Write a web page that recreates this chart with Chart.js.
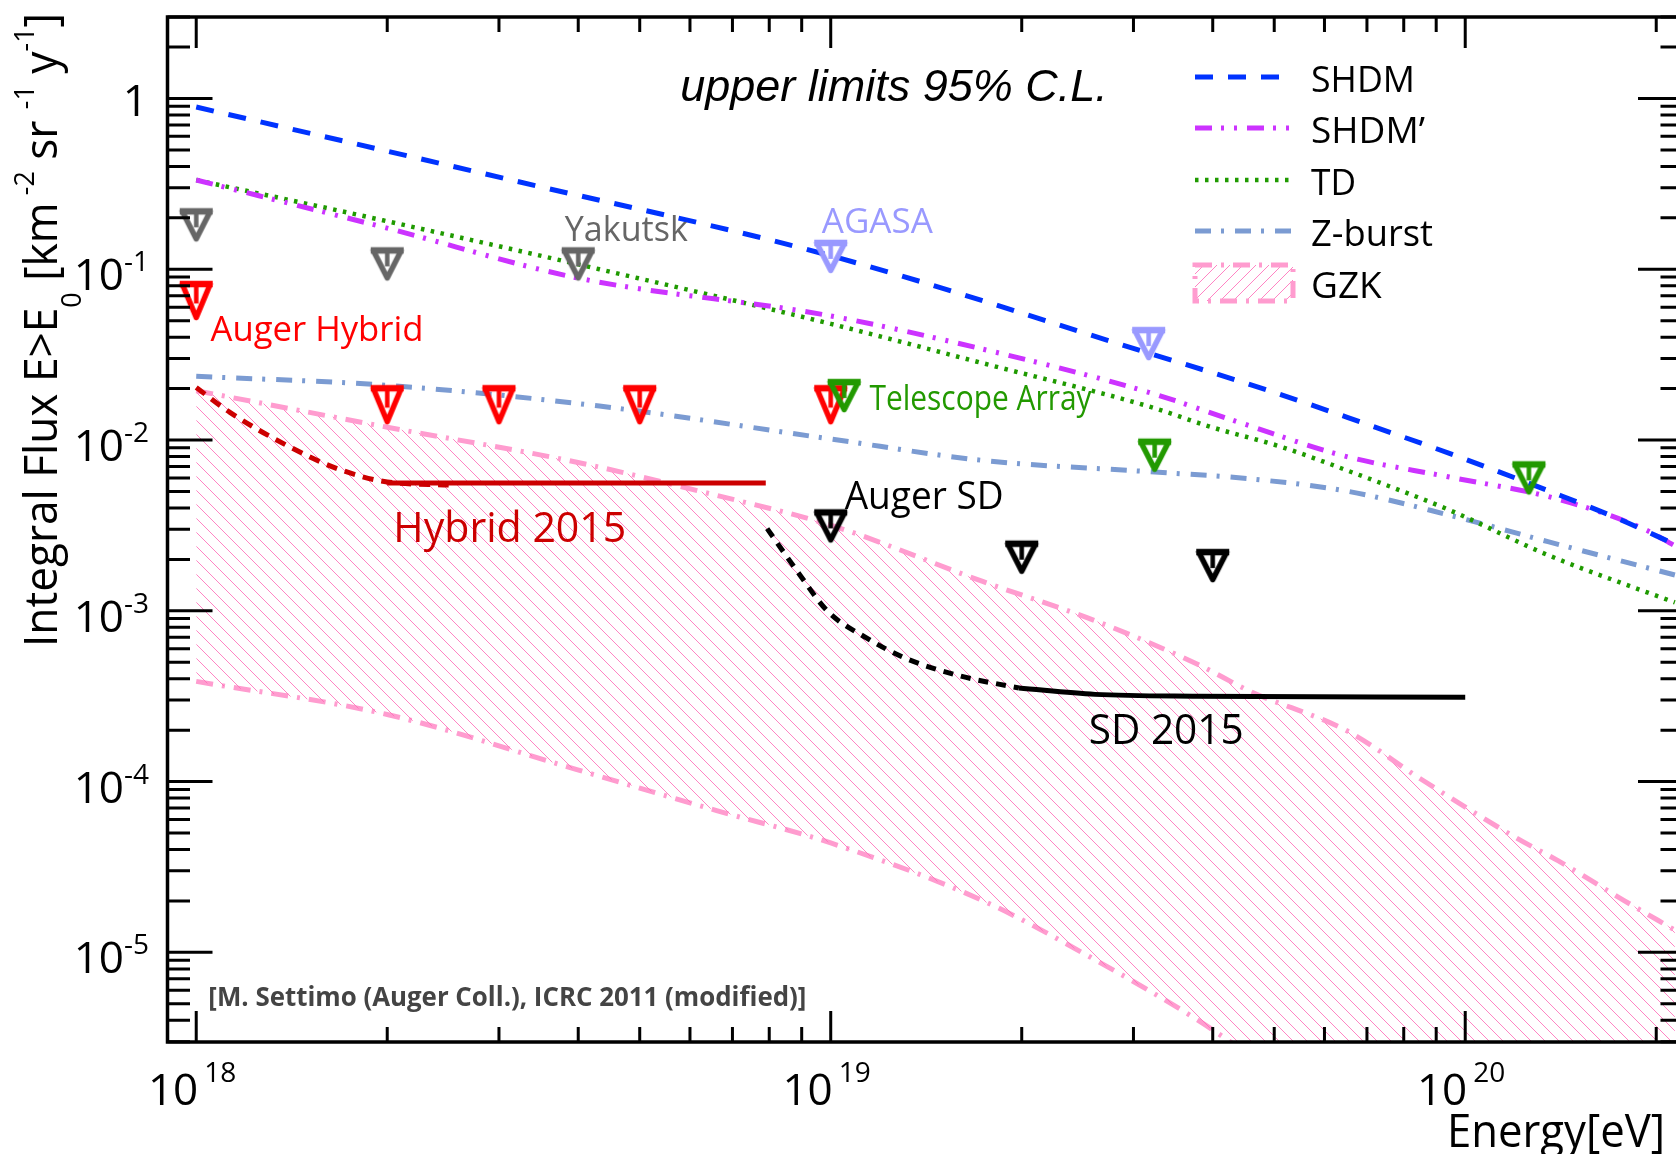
<!DOCTYPE html>
<html>
<head>
<meta charset="utf-8">
<script src="https://cdn.jsdelivr.net/npm/chart.js@4.4.0/dist/chart.umd.min.js"></script>
<style>
  html, body { margin: 0; padding: 0; background: #fff; overflow: hidden; }
  #wrap { width: 1676px; height: 1154px; overflow: hidden; position: relative; }
  #flux { display: block; }
</style>
</head>
<body>
<div id="wrap"><canvas id="flux" width="1700" height="1154"></canvas></div>
<script>
// energies in eV, integral flux E>E0 in km^-2 sr^-1 y^-1
const shdmE = [1e18, 3.16e18, 1e19, 3.16e19, 4.9e19, 6.9e19, 9.8e19, 1.38e20, 1.74e20, 2.14e20];
const shdmF = [0.891, 0.331, 0.120, 0.0324, 0.0195, 0.0126, 0.00794, 0.0049, 0.00347, 0.00245];

const shdm2E = [1e18, 2e18, 3.98e18, 1e19, 1.74e19, 3.16e19, 4.47e19, 6.46e19, 9.44e19, 1.38e20, 1.91e20, 2.14e20];
const shdm2F = [0.333, 0.174, 0.0891, 0.0533, 0.034, 0.0191, 0.01245, 0.00805, 0.00607, 0.00457, 0.00302, 0.0024];

const tdE = [1e18, 2e18, 4.32e18, 1e19, 1.78e19, 3.16e19, 3.98e19, 5.13e19, 6.53e19, 9.44e19, 1.35e20, 1.74e20, 2.14e20];
const tdF = [0.333, 0.191, 0.1, 0.0479, 0.0275, 0.0158, 0.0119, 0.00912, 0.00661, 0.00389, 0.00212, 0.00148, 0.00112];

const zbE = [1e18, 2e18, 4.32e18, 1e19, 1.74e19, 3.16e19, 4.57e19, 6.53e19, 9.44e19, 1.35e20, 2.14e20];
const zbF = [0.0236, 0.0209, 0.0158, 0.01014, 0.00759, 0.00653, 0.00593, 0.00501, 0.00363, 0.00254, 0.00162];

const gzkE = [1e18, 2e18, 3.98e18, 6.61e18, 1e19, 1.74e19, 2.63e19, 3.8e19, 4.57e19, 6.53e19, 8.51e19, 1.2e20, 1.4e20, 1.78e20, 2.14e20];
const gzkHigh = [0.01945, 0.01189, 0.00741, 0.00474, 0.00317, 0.00148, 8.65e-4, 4.83e-4, 3.39e-4, 1.97e-4, 1.035e-4, 4.71e-5, 3.44e-5, 2.01e-5, 1.35e-5];
// lower edge leaves the plot below 3e-6 near 4e19
const gzkLow = [3.86e-4, 2.47e-4, 1.175e-4, 6.76e-5, 4.37e-5, 2.0e-5, 8.9e-6, 3.98e-6, 2.5e-6, 1e-6, 5e-7, 2e-7, 1.4e-7, 8e-8, 5e-8];

const hybDashE = [1e18, 1.13e18, 1.39e18, 1.67e18, 2e18, 2.5e18];
const hybDashF = [0.0203, 0.01452, 0.00929, 0.00679, 0.00568, 0.00545];
const hybE = [2e18, 7.9e18];
const hybF = [0.0056, 0.0056];

const sdDashE = [7.94e18, 8.87e18, 9.9e18, 1.14e19, 1.31e19, 1.61e19, 1.98e19];
const sdDashF = [0.00303, 0.00169, 9.89e-4, 6.92e-4, 5.28e-4, 4.13e-4, 3.53e-4];
const sdE = [1.98e19, 2.61e19, 3.78e19, 1e20];
const sdF = [3.53e-4, 3.24e-4, 3.16e-4, 3.12e-4];

// upper limits
const yakE = [1e18, 2e18, 4e18];
const yakF = [0.182, 0.1075, 0.1075];
const agasaE = [1e19, 3.17e19];
const agasaF = [0.1189, 0.0367];
const hybLimE = [1e18, 2e18, 3e18, 5e18, 1e19];
const hybLimF = [0.0656, 0.0161, 0.0161, 0.0161, 0.0161];
const taE = [1.05e19, 3.24e19, 1.26e20];
const taF = [0.0182, 0.00815, 0.006];
const sdLimE = [1e19, 2e19, 4e19];
const sdLimF = [0.00314, 0.00206, 0.00184];

const xMin = 9.01e17, xMax = 2.204e20, yMin = 2.985e-6, yMax = 3.0;
const xTickExp = [18, 19, 20];
const yTickExp = [0, -1, -2, -3, -4, -5];

const SANS = '"Open Sans", "Noto Sans", sans-serif';

const canvas = document.getElementById('flux');
const ctx = canvas.getContext('2d');

function pts(xs, ys) {
    return xs.map((v, i) => ({ x: v, y: ys[i] }));
}

function limitMarker(color, w, h) {
    const pad = 6;
    const c = document.createElement('canvas');
    c.width = w + pad * 2;
    c.height = h + pad * 2;
    const g = c.getContext('2d');
    g.strokeStyle = color;
    g.lineWidth = 5.5;
    g.lineJoin = 'round';
    const l = pad + 2.5, r = pad + w - 2.5, t = pad + 3, b = pad + h - 2.5;
    const cx = c.width / 2;
    g.beginPath();
    g.moveTo(l, t);
    g.lineTo(r, t);
    g.lineTo(cx, b);
    g.closePath();
    g.stroke();
    // heavier top bar and the stem
    g.lineWidth = 6.5;
    g.beginPath();
    g.moveTo(pad, t);
    g.lineTo(pad + w, t);
    g.stroke();
    g.lineWidth = 4.5;
    g.beginPath();
    g.moveTo(cx, t);
    g.lineTo(cx, t + (b - t) * 0.58);
    g.stroke();
    return c;
}

function hatch(color, step, backslash) {
    const tile = document.createElement('canvas');
    tile.width = step;
    tile.height = step;
    const g = tile.getContext('2d');
    g.strokeStyle = color;
    g.lineWidth = 1;
    g.beginPath();
    if (backslash) {
        g.moveTo(-2, -2); g.lineTo(step + 2, step + 2);
    } else {
        g.moveTo(-2, step + 2); g.lineTo(step + 2, -2);
    }
    g.stroke();
    return ctx.createPattern(tile, 'repeat');
}

const pink = '#ff9ccf';
const gzkHatch = hatch('rgba(255,110,185,0.85)', 14, true);
const legendHatch = hatch('rgba(255,110,185,0.85)', 13, false);

function curve(label, xs, ys, color, dash, width) {
    return {
        label: label,
        data: pts(xs, ys),
        borderColor: color,
        borderDash: dash,
        borderWidth: width || 5,
        borderCapStyle: 'butt',
        pointRadius: 0,
        fill: false,
        cubicInterpolationMode: 'monotone'
    };
}

function limits(label, xs, ys, marker) {
    return {
        label: label,
        data: pts(xs, ys),
        showLine: false,
        pointStyle: marker,
        pointRadius: 16,
        borderColor: 'transparent',
        backgroundColor: 'transparent'
    };
}

const gzkUpper = curve('GZK', gzkE, gzkHigh, pink, [17, 9, 3, 9]);
gzkUpper.fill = '+1';
gzkUpper.backgroundColor = gzkHatch;
const gzkLower = curve('GZK low', gzkE, gzkLow, pink, [17, 9, 3, 9]);

const datasets = [
    limits('Auger SD', sdLimE, sdLimF, limitMarker('#000000', 33, 33)),
    limits('Telescope Array', taE, taF, limitMarker('#229900', 33, 33)),
    limits('Auger Hybrid', hybLimE, hybLimF, limitMarker('#ff0000', 33, 39)),
    limits('AGASA', agasaE, agasaF, limitMarker('#9999ff', 33, 33)),
    limits('Yakutsk', yakE, yakF, limitMarker('#666666', 33, 33)),
    curve('SD 2015', sdE, sdF, '#000000', [], 5),
    curve('SD 2015 dash', sdDashE, sdDashF, '#000000', [10, 8], 5),
    curve('Hybrid 2015', hybE, hybF, '#cc0000', [], 5),
    curve('Hybrid 2015 dash', hybDashE, hybDashF, '#cc0000', [11, 8], 5),
    curve('SHDM', shdmE, shdmF, '#0033ff', [18, 15]),
    curve('SHDM’', shdm2E, shdm2F, '#cc33ff', [17, 9, 3, 10, 3, 10]),
    curve('TD', tdE, tdF, '#1f9a00', [3.5, 6.5], 4.5),
    curve('Z-burst', zbE, zbF, '#7b9bd2', [16, 10, 3, 11]),
    gzkUpper,
    gzkLower
];

// free text placed in data coordinates
const notes = [
    { text: 'upper limits 95% C.L.', e: 5.79e18, f: 0.961, font: 'italic 45px "Liberation Sans", Arial, sans-serif', w: 433, color: '#000' },
    { text: 'Yakutsk', e: 3.81e18, f: 0.1465, font: '35px ' + SANS, w: 123, color: '#666666' },
    { text: 'AGASA', e: 9.68e18, f: 0.163, font: '35px ' + SANS, w: 111, color: '#9999ff' },
    { text: 'Auger Hybrid', e: 1.053e18, f: 0.0382, font: '35px ' + SANS, w: 213, color: '#ff0000' },
    { text: 'Telescope Array', e: 1.151e19, f: 0.0149, font: '35px ' + SANS, w: 222, color: '#229900' },
    { text: 'Hybrid 2015', e: 2.045e18, f: 0.002535, font: '42px ' + SANS, w: 233, color: '#cc0000' },
    { text: 'Auger SD', e: 1.052e19, f: 0.00396, font: '38px ' + SANS, w: 159, color: '#000' },
    { text: 'SD 2015', e: 2.55e19, f: 1.65e-4, font: '42px ' + SANS, w: 155, color: '#000' },
    { text: '[M. Settimo (Auger Coll.), ICRC 2011 (modified)]', e: 1.045e18, f: 4.84e-6, font: 'bold 26px ' + SANS, w: 598, color: '#444444' }
];

const legendRows = [
    { label: 'SHDM', y: 77, w: 104 },
    { label: 'SHDM’', y: 128, w: 127 },
    { label: 'TD', y: 180, w: 45 },
    { label: 'Z-burst', y: 231, w: 122 },
    { label: 'GZK', y: 283, w: 71 }
];

function rich(g, parts, x, y, align) {
    let total = 0;
    const ws = parts.map(p => {
        g.font = p[1];
        const m = g.measureText(p[0]).width;
        total += m;
        return m;
    });
    let cx = align === 'right' ? x - total : (align === 'center' ? x - total / 2 : x);
    g.textAlign = 'left';
    parts.forEach((p, i) => {
        g.font = p[1];
        g.fillText(p[0], cx, y + (p[2] || 0));
        cx += ws[i];
    });
    return total;
}

const decorations = {
    id: 'decorations',
    afterDatasetsDraw(chart) {
        const g = chart.ctx;
        const a = chart.chartArea;
        const x = chart.scales.x, y = chart.scales.y;
        g.save();

        // frame and ticks
        g.strokeStyle = '#000';
        g.lineWidth = 3.5;
        g.strokeRect(a.left, a.top, a.right - a.left, a.bottom - a.top);
        g.lineWidth = 3;
        g.beginPath();
        for (let d = 17; d <= 20; d++) {
            for (let m = 1; m <= 9; m++) {
                const v = m * Math.pow(10, d);
                if (v < xMin || v > xMax) continue;
                const px = x.getPixelForValue(v);
                const len = m === 1 ? 31 : 15;
                g.moveTo(px, a.bottom); g.lineTo(px, a.bottom - len);
                g.moveTo(px, a.top); g.lineTo(px, a.top + len);
            }
        }
        for (let d = -6; d <= 0; d++) {
            for (let m = 1; m <= 9; m++) {
                const v = m * Math.pow(10, d);
                if (v < yMin || v > yMax) continue;
                const py = y.getPixelForValue(v);
                const len = m === 1 ? 45 : 22.5;
                g.moveTo(a.left, py); g.lineTo(a.left + len, py);
                g.moveTo(a.right, py); g.lineTo(a.right - len, py);
            }
        }
        g.stroke();

        // tick labels
        g.fillStyle = '#000';
        g.textBaseline = 'alphabetic';
        xTickExp.forEach(e => {
            const px = x.getPixelForValue(Math.pow(10, e));
            g.font = '44px ' + SANS;
            g.textAlign = 'right';
            g.fillText('10', px + 2, 1105);
            g.font = '28px ' + SANS;
            g.textAlign = 'left';
            g.fillText(String(e), px + 8, 1082);
        });
        yTickExp.forEach(e => {
            const py = y.getPixelForValue(Math.pow(10, e));
            if (e === 0) {
                g.font = '44px ' + SANS;
                g.textAlign = 'right';
                g.fillText('1', 148, py + 18);
                return;
            }
            g.font = '28px ' + SANS;
            g.textAlign = 'right';
            const sup = String(e);
            g.fillText(sup, 149, py + 2);
            const sw = g.measureText(sup).width;
            g.font = '44px ' + SANS;
            g.fillText('10', 149 - sw, py + 21);
        });

        // axis titles
        g.font = '46px ' + SANS;
        g.textAlign = 'right';
        g.fillText('Energy[eV]', 1665, 1147, 218);

        g.save();
        g.translate(57, 647);
        g.rotate(-Math.PI / 2);
        const big = '46px ' + SANS, small = '28px ' + SANS;
        const parts = [
            ['Integral Flux E>E', big, 0], ['0', small, 24],
            [' [km', big, 0], [' -2', small, -23],
            [' sr ', big, 0], ['-1', small, -23],
            [' y', big, 0], ['-1', small, -23], [']', big, 0]
        ];
        let total = 0;
        parts.forEach(p => { g.font = p[1]; total += g.measureText(p[0]).width; });
        g.scale(634 / total, 1);
        rich(g, parts, 0, 0, 'left');
        g.restore();

        // annotations
        notes.forEach(n => {
            g.font = n.font;
            g.fillStyle = n.color;
            g.textAlign = 'left';
            g.fillText(n.text, x.getPixelForValue(n.e), y.getPixelForValue(n.f), n.w);
        });

        // legend
        const lx0 = 1195, lx1 = 1291, tx = 1311;
        legendRows.forEach(row => {
            const ds = chart.data.datasets.find(d => d.label === row.label);
            g.setLineDash(ds.borderDash || []);
            g.strokeStyle = ds.borderColor;
            g.lineWidth = ds.borderWidth;
            g.lineCap = 'butt';
            if (row.label === 'GZK') {
                g.fillStyle = legendHatch;
                g.fillRect(lx0, row.y - 18, lx1 - lx0 + 2, 36);
                g.strokeRect(lx0, row.y - 18, lx1 - lx0 + 2, 36);
            } else {
                g.beginPath();
                g.moveTo(lx0, row.y);
                g.lineTo(lx1, row.y);
                g.stroke();
            }
            g.setLineDash([]);
            g.fillStyle = '#000';
            g.font = '37px ' + SANS;
            g.textAlign = 'left';
            g.fillText(row.label, tx, row.y + 15, row.w);
        });

        g.restore();
    }
};

const chart = new Chart(ctx, {
    type: 'line',
    data: { datasets: datasets },
    options: {
        responsive: false,
        animation: false,
        devicePixelRatio: 1,
        events: [],
        layout: { padding: { left: 167.5, top: 13.3, right: 12, bottom: 112 } },
        scales: {
            x: { type: 'logarithmic', min: xMin, max: xMax, display: false, bounds: 'data' },
            y: { type: 'logarithmic', min: yMin, max: yMax, display: false, bounds: 'data' }
        },
        plugins: {
            legend: { display: false },
            tooltip: { enabled: false }
        }
    },
    plugins: [decorations]
});
</script>
</body>
</html>
